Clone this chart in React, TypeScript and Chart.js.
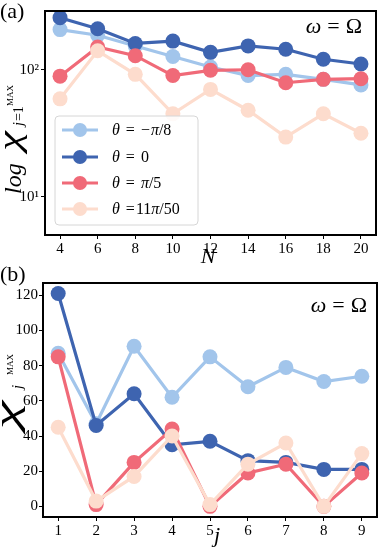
import React, { useEffect, useRef } from 'react';
import { Chart, registerables } from 'chart.js';
Chart.register(...registerables);

// ---------- data ----------
const nValues = [4, 6, 8, 10, 12, 14, 16, 18, 20];
const chiN_negPi8 = [207, 187, 154, 127, 105, 90, 92, 84, 76];
const chiN_zero = [257, 210, 161, 168, 137, 154, 145, 121, 111];
const chiN_pi5 = [89, 151, 129, 90, 99, 100, 79, 84, 85];
const chiN_11pi50 = [59, 141, 92, 45, 70, 48, 29.5, 45, 31.6];

const jValues = [1, 2, 3, 4, 5, 6, 7, 8, 9];
const chiJ_negPi8 = [87, 47, 91, 62, 85, 68, 79, 71, 74];
const chiJ_zero = [121, 46, 64, 35, 37, 26, 25, 21, 21];
const chiJ_pi5 = [85, 1, 25, 44, 0, 19, 24, 0, 19];
const chiJ_11pi50 = [45, 3, 17, 40, 1, 24, 36, 0, 30];

const topXTicks = [4, 6, 8, 10, 12, 14, 16, 18, 20];
const topYTicks = [10, 100];
const botXTicks = [1, 2, 3, 4, 5, 6, 7, 8, 9];
const botYTicks = [0, 20, 40, 60, 80, 100, 120];

const seriesLabels = ['θ = −π/8', 'θ = 0', 'θ = π/5', 'θ =11π/50'];
const colors = ['#a2c5eb', '#3e64b0', '#f06a78', '#fddccd'];

const SERIF = '"Liberation Serif", "DejaVu Serif", serif';

type Seg = { t: string; it?: boolean; gap?: number };

function drawSegs(ctx: CanvasRenderingContext2D, segs: Seg[], x: number, y: number, size: number) {
  let cx = x;
  for (const s of segs) {
    ctx.font = `${s.it ? 'italic ' : ''}${size}px ${SERIF}`;
    if (s.gap) cx += s.gap;
    ctx.fillText(s.t, cx, y);
    cx += ctx.measureText(s.t).width;
  }
  return cx;
}
function measureSegs(ctx: CanvasRenderingContext2D, segs: Seg[], size: number) {
  let w = 0;
  for (const s of segs) {
    ctx.font = `${s.it ? 'italic ' : ''}${size}px ${SERIF}`;
    w += (s.gap || 0) + ctx.measureText(s.t).width;
  }
  return w;
}

function drawChi(ctx: CanvasRenderingContext2D, u: number, base: number, size: number, targetW: number) {
  ctx.save();
  ctx.font = `italic ${size}px ${SERIF}`;
  const m = ctx.measureText('χ');
  const glyphW = (m.actualBoundingBoxRight || m.width) + (m.actualBoundingBoxLeft || 0);
  const sx = glyphW > 0 ? targetW / glyphW : 1;
  ctx.translate(u, base);
  ctx.scale(sx, 1);
  ctx.fillText('χ', m.actualBoundingBoxLeft || 0, 0);
  ctx.restore();
}

const legendSegs: Seg[][] = [
  [{ t: 'θ', it: true }, { t: '=', gap: 6 }, { t: '−', gap: 6 }, { t: 'π', it: true, gap: 1 }, { t: '/8' }],
  [{ t: 'θ', it: true }, { t: '=', gap: 6 }, { t: '0', gap: 6 }],
  [{ t: 'θ', it: true }, { t: '=', gap: 6 }, { t: 'π', it: true, gap: 6 }, { t: '/5' }],
  [{ t: 'θ', it: true }, { t: '=', gap: 6 }, { t: '11', gap: 1 }, { t: 'π', it: true }, { t: '/50' }],
];

const omegaSegs: Seg[] = [{ t: 'ω', it: true }, { t: '=', gap: 6 }, { t: 'Ω', gap: 6 }];

function makeDatasets(xs: number[], ys: number[][]) {
  return ys.map((arr, i) => ({
    label: seriesLabels[i],
    data: xs.map((x, k) => ({ x, y: arr[k] })),
    borderColor: colors[i],
    backgroundColor: colors[i],
    borderWidth: 3.2,
    pointRadius: 7.5,
    pointBorderWidth: 0,
    pointHoverRadius: 7.5,
    tension: 0,
    clip: 0,
    order: 4 - i,
  }));
}

function decoPlugin(kind: 'top' | 'bottom') {
  return {
    id: 'deco-' + kind,
    afterDraw(chart: any) {
      const ctx: CanvasRenderingContext2D = chart.ctx;
      const a = chart.chartArea;
      ctx.save();
      ctx.fillStyle = '#000';
      ctx.textBaseline = 'alphabetic';
      ctx.textAlign = 'left';

      // frame
      ctx.strokeStyle = '#000';
      ctx.lineWidth = 2;
      ctx.strokeRect(a.left, a.top, a.right - a.left, a.bottom - a.top);

      // omega = Omega
      const ow = measureSegs(ctx, omegaSegs, 22);
      if (kind === 'top') {
        drawSegs(ctx, omegaSegs, 362 - ow, 33, 22);
      } else {
        drawSegs(ctx, omegaSegs, 367 - ow, 52, 22);
      }

      // panel labels
      ctx.font = `22px ${SERIF}`;
      if (kind === 'top') ctx.fillText('(a)', 0, 18);
      else ctx.fillText('(b)', 0, 21);

      // x title
      ctx.font = `italic 22px ${SERIF}`;
      ctx.textAlign = 'center';
      if (kind === 'top') ctx.fillText('N', 208, 263);
      else ctx.fillText('j', 217, 282);
      ctx.textAlign = 'left';

      // y title
      if (kind === 'top') {
        ctx.save();
        ctx.translate(21, 194);
        ctx.rotate(-Math.PI / 2);
        ctx.font = `italic 24px ${SERIF}`;
        ctx.fillText('log', 0, 0);
        drawChi(ctx, 39, -1, 32, 25);
        ctx.font = `9px ${SERIF}`;
        ctx.fillText('MAX', 88, -8);
        drawSegs(ctx, [{ t: 'j', it: true }, { t: '=1', gap: 1 }], 68, 2, 14);
        ctx.restore();
      } else {
        ctx.save();
        ctx.translate(18, 435 - 260);
        ctx.rotate(-Math.PI / 2);
        drawChi(ctx, 0, 0, 34, 36);
        ctx.font = `9px ${SERIF}`;
        ctx.fillText('MAX', 60, -5);
        ctx.font = `italic 15px ${SERIF}`;
        ctx.fillText('j', 46, 4);
        ctx.restore();
      }

      // legend (top only)
      if (kind === 'top') {
        const lx = 55, ly = 116, lw = 143, lh = 109, r = 4;
        ctx.beginPath();
        ctx.moveTo(lx + r, ly);
        ctx.arcTo(lx + lw, ly, lx + lw, ly + lh, r);
        ctx.arcTo(lx + lw, ly + lh, lx, ly + lh, r);
        ctx.arcTo(lx, ly + lh, lx, ly, r);
        ctx.arcTo(lx, ly, lx + lw, ly, r);
        ctx.closePath();
        ctx.fillStyle = 'rgba(255,255,255,0.85)';
        ctx.fill();
        ctx.strokeStyle = '#d6d6d6';
        ctx.lineWidth = 1;
        ctx.stroke();
        const rows = [130, 157, 183, 209];
        rows.forEach((ry, i) => {
          ctx.strokeStyle = colors[i];
          ctx.lineWidth = 3.2;
          ctx.beginPath();
          ctx.moveTo(62, ry);
          ctx.lineTo(98, ry);
          ctx.stroke();
          ctx.fillStyle = colors[i];
          ctx.beginPath();
          ctx.arc(80, ry, 7, 0, Math.PI * 2);
          ctx.fill();
          ctx.fillStyle = '#000';
          drawSegs(ctx, legendSegs[i], 112, ry + 5, 16);
        });
      }
      ctx.restore();
    },
  };
}

const tickFont = { family: SERIF, size: 15 };

function topConfig(): any {
  return {
    type: 'line',
    data: {
      datasets: makeDatasets(nValues, [chiN_negPi8, chiN_zero, chiN_pi5, chiN_11pi50]),
    },
    options: {
      animation: false,
      responsive: false,
      maintainAspectRatio: false,
      layout: { padding: { left: 0, right: 15, top: 6, bottom: 0 } },
      plugins: { legend: { display: false }, tooltip: { enabled: false } },
      scales: {
        x: {
          type: 'linear',
          min: 3.2,
          max: 20.8,
          afterBuildTicks: (s: any) => { s.ticks = topXTicks.map((v) => ({ value: v })); },
          afterFit: (s: any) => { s.height = 40; },
          ticks: { font: tickFont, color: '#000', padding: 1, maxRotation: 0, autoSkip: false },
          grid: { display: true, drawOnChartArea: false, drawTicks: true, tickLength: 4, color: '#000', lineWidth: 1 },
          border: { display: true, color: '#000', width: 2 },
        },
        y: {
          type: 'logarithmic',
          min: 5,
          max: 290,
          afterBuildTicks: (s: any) => { s.ticks = topYTicks.map((v) => ({ value: v })); },
          afterFit: (s: any) => { s.width = 45; },
          ticks: {
            font: tickFont, color: '#000', padding: 2, autoSkip: false,
            callback: (v: any) => (v === 10 ? '10¹' : v === 100 ? '10²' : ''),
          },
          grid: { display: true, drawOnChartArea: false, drawTicks: true, tickLength: 4, color: '#000', lineWidth: 1 },
          border: { display: true, color: '#000', width: 2 },
        },
      },
    },
    plugins: [decoPlugin('top')],
  };
}

function bottomConfig(): any {
  return {
    type: 'line',
    data: {
      datasets: makeDatasets(jValues, [chiJ_negPi8, chiJ_zero, chiJ_pi5, chiJ_11pi50]),
    },
    options: {
      animation: false,
      responsive: false,
      maintainAspectRatio: false,
      layout: { padding: { left: 0, right: 14, top: 23, bottom: 0 } },
      plugins: { legend: { display: false }, tooltip: { enabled: false } },
      scales: {
        x: {
          type: 'linear',
          min: 0.6,
          max: 9.4,
          afterBuildTicks: (s: any) => { s.ticks = botXTicks.map((v) => ({ value: v })); },
          afterFit: (s: any) => { s.height = 43; },
          ticks: { font: tickFont, color: '#000', padding: 1, maxRotation: 0, autoSkip: false },
          grid: { display: true, drawOnChartArea: false, drawTicks: true, tickLength: 4, color: '#000', lineWidth: 1 },
          border: { display: true, color: '#000', width: 2 },
        },
        y: {
          type: 'linear',
          min: -6.05,
          max: 127,
          afterBuildTicks: (s: any) => { s.ticks = botYTicks.map((v) => ({ value: v })); },
          afterFit: (s: any) => { s.width = 43; },
          ticks: { font: tickFont, color: '#000', padding: 1, autoSkip: false },
          grid: { display: true, drawOnChartArea: false, drawTicks: true, tickLength: 4, color: '#000', lineWidth: 1 },
          border: { display: true, color: '#000', width: 2 },
        },
      },
    },
    plugins: [decoPlugin('bottom')],
  };
}

function ChartCanvas({ config, top, height }: { config: () => any; top: number; height: number }) {
  const ref = useRef<HTMLCanvasElement | null>(null);
  useEffect(() => {
    if (!ref.current) return;
    const chart = new Chart(ref.current, config());
    return () => chart.destroy();
  }, [config]);
  return (
    <canvas
      ref={ref}
      width={391}
      height={height}
      style={{ position: 'absolute', left: 0, top, width: 391, height }}
    />
  );
}

export default function App() {
  return (
    <div style={{ position: 'fixed', left: 0, top: 0, width: 391, height: 560, background: '#fff', overflow: 'hidden' }}>
      <ChartCanvas config={topConfig} top={0} height={275} />
      <ChartCanvas config={bottomConfig} top={260} height={300} />
    </div>
  );
}
